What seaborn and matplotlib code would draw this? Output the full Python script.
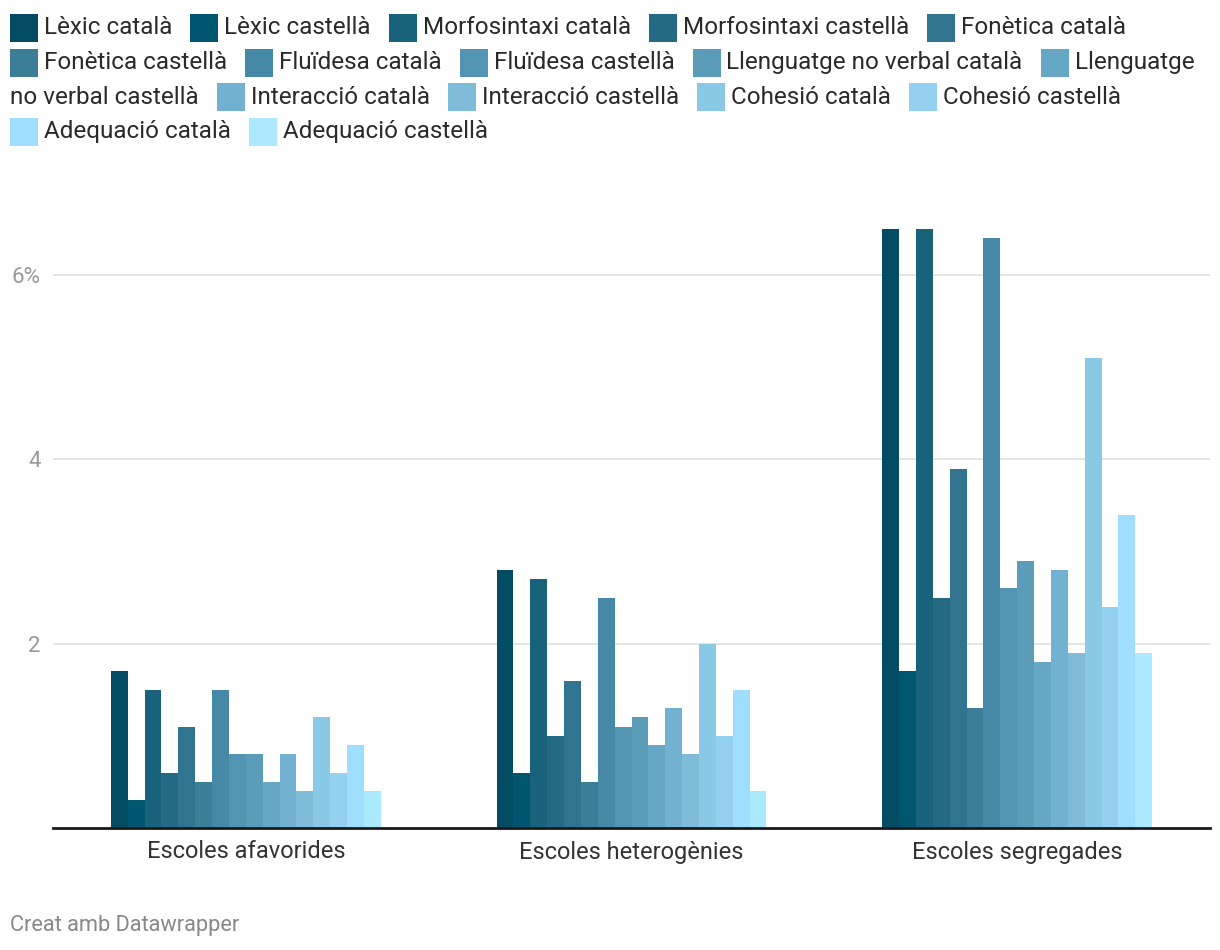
import pandas as pd
import matplotlib.pyplot as plt
import seaborn as sns
from matplotlib.patches import Rectangle

# values (percent)
groups = ['Escoles afavorides', 'Escoles heterogènies', 'Escoles segregades']
series = ['Lèxic català', 'Lèxic castellà', 'Morfosintaxi català', 'Morfosintaxi castellà',
          'Fonètica català', 'Fonètica castellà', 'Fluïdesa català', 'Fluïdesa castellà',
          'Llenguatge no verbal català', 'Llenguatge no verbal castellà',
          'Interacció català', 'Interacció castellà', 'Cohesió català', 'Cohesió castellà',
          'Adequació català', 'Adequació castellà']
afavorides = [1.7, 0.3, 1.5, 0.6, 1.1, 0.5, 1.5, 0.8, 0.8, 0.5, 0.8, 0.4, 1.2, 0.6, 0.9, 0.4]
heterogenies = [2.8, 0.6, 2.7, 1.0, 1.6, 0.5, 2.5, 1.1, 1.2, 0.9, 1.3, 0.8, 2.0, 1.0, 1.5, 0.4]
segregades = [6.5, 1.7, 6.5, 2.5, 3.9, 1.3, 6.4, 2.6, 2.9, 1.8, 2.8, 1.9, 5.1, 2.4, 3.4, 1.9]
colors = ['#034c63', '#00566f', '#18627b', '#246a84', '#31748f', '#3c7d97', '#4689a6', '#5294b1',
          '#5b9db8', '#66a7c5', '#72b2d0', '#7ebcda', '#8ac9e6', '#94d1f0', '#9fdefe', '#abe9ff']
yticks = [2, 4, 6]
yticklabels = ['2', '4', '6%']

FONT = 'Roboto'
W, H = 1220, 950

rows = []
for g, vals in zip(groups, [afavorides, heterogenies, segregades]):
    for s, v in zip(series, vals):
        rows.append({'group': g, 'series': s, 'value': v})
df = pd.DataFrame(rows)

sns.set_style('white')
plt.rcParams['font.family'] = [FONT, 'DejaVu Sans']

fig = plt.figure(figsize=(W / 100, H / 100), dpi=100)
ax = fig.add_axes([53 / W, (H - 828) / H, 1157 / W, (828 - 229) / H])

sns.barplot(data=df, x='group', y='value', hue='series', hue_order=series,
            palette=colors, saturation=1, width=0.7, linewidth=0, legend=False, ax=ax)

ax.set_xlim(-0.5, 2.5)
ax.set_ylim(0, 6.5)
ax.set_xlabel('')
ax.set_ylabel('')
ax.set_yticks(yticks)
ax.set_yticklabels(yticklabels)
ax.yaxis.grid(True, color='#e3e3e3', linewidth=1.3)
ax.set_axisbelow(True)
for side in ['top', 'right', 'left']:
    ax.spines[side].set_visible(False)
ax.spines['bottom'].set_color('#1a1a1a')
ax.spines['bottom'].set_linewidth(2)
ax.tick_params(axis='y', length=0, pad=9, labelsize=16, labelcolor='#999999')
ax.tick_params(axis='x', length=0, pad=9, labelsize=17, labelcolor='#333333')

# flowing legend, wrapped like the original
LEG_FS = 17.5
renderer = fig.canvas.get_renderer()


def text_w(s):
    t = fig.text(0, 0, s, fontsize=LEG_FS)
    w = t.get_window_extent(renderer).width
    t.remove()
    return w


def put_text(s, x, row):
    fig.text(x / W, 1 - (28 + 34.5 * row) / H, s, fontsize=LEG_FS, color='#2a2a2a',
             va='center', ha='left')


X0, XMAX = 10, 1212
PW, PH, PG, IG = 28, 28, 6, 18
x = X0
row = 0
for label, color in zip(series, colors):
    words = label.split(' ')
    if x + PW + PG + text_w(words[0]) > XMAX:
        row += 1
        x = X0
    yc = 28 + 34.5 * row
    fig.patches.append(Rectangle((x / W, 1 - (yc + PH / 2) / H), PW / W, PH / H,
                                 transform=fig.transFigure, color=color, lw=0))
    x += PW + PG
    line = ''
    for wd in words:
        cand = line + ' ' + wd if line else wd
        if line and x + text_w(cand) > XMAX:
            put_text(line, x, row)
            row += 1
            x = X0
            line = wd
        else:
            line = cand
    put_text(line, x, row)
    x += text_w(line) + IG

fig.text(10 / W, 1 - 925 / H, 'Creat amb Datawrapper', fontsize=15.7, color='#888888',
         va='center', ha='left')

plt.savefig('out.png', dpi=100)
